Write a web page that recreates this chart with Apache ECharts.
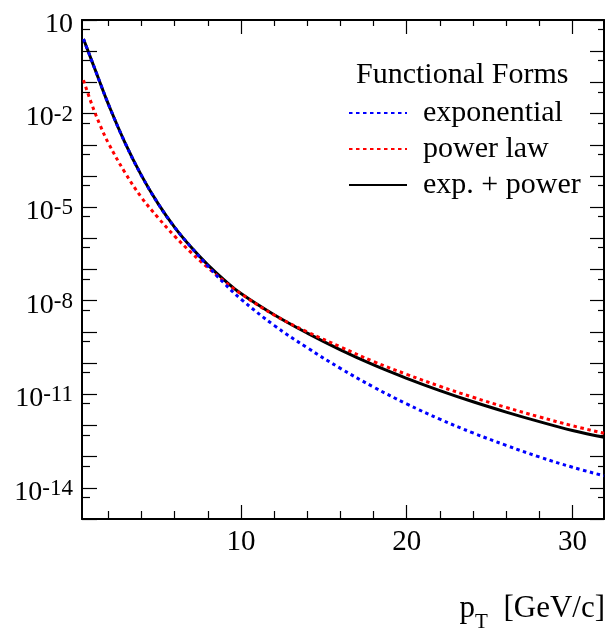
<!DOCTYPE html>
<html><head><meta charset="utf-8">
<script src="https://cdn.jsdelivr.net/npm/echarts@6/dist/echarts.min.js"></script>
<style>html,body{margin:0;padding:0;background:#fff}#c{width:608px;height:628px}</style>
</head><body><div id="c"></div>
<script>
// ---- data ----
const pT = [0.5, 1, 1.5, 2, 3, 4, 5, 6, 7, 8, 9, 10, 12, 14, 16, 18, 20, 22, 24, 26, 28, 30, 31.9];
const exponential = [2.45, 0.49, 0.0977, 0.020, 1.175e-3, 1.023e-4, 1.29e-5, 2.24e-6, 5.13e-7, 1.29e-7, 3.55e-8, 1.12e-8, 1.62e-9, 3.09e-10, 6.76e-11, 1.70e-11, 4.90e-12, 1.585e-12, 5.75e-13, 2.29e-13, 9.77e-14, 4.57e-14, 2.43e-14];
const powerLaw = [0.118, 0.0198, 4.27e-3, 1.135e-3, 1.29e-4, 2.04e-5, 4.57e-6, 1.175e-6, 3.47e-7, 1.15e-7, 4.17e-8, 1.66e-8, 3.47e-9, 1.0e-9, 3.31e-10, 1.12e-10, 4.34e-11, 1.80e-11, 8.0e-12, 3.78e-12, 1.88e-12, 9.77e-13, 5.62e-13];
const expPlusPower = [2.45, 0.49, 0.0977, 0.020, 1.175e-3, 1.023e-4, 1.29e-5, 2.24e-6, 5.13e-7, 1.41e-7, 4.57e-8, 1.70e-8, 3.55e-9, 9.12e-10, 2.66e-10, 8.71e-11, 3.24e-11, 1.31e-11, 5.73e-12, 2.68e-12, 1.32e-12, 6.87e-13, 4.17e-13];
const seriesNames = ['exponential', 'power law', 'exp. + power'];
const xMajorTicks = [10, 20, 30];
const xMinorTicks = [2, 4, 6, 8, 12, 14, 16, 18, 22, 24, 26, 28];
const yDecades = [1e-15, 1e-14, 1e-13, 1e-12, 1e-11, 1e-10, 1e-9, 1e-8, 1e-7, 1e-6, 1e-5, 1e-4, 1e-3, 1e-2, 1e-1, 1, 10];
const yLabelValues = [10, 1e-2, 1e-5, 1e-8, 1e-11, 1e-14];
const yMinorExps = [-14.301, -13.301, -12.301, -11.301, -10.301, -9.301, -8.301, -7.301, -6.301, -5.301, -4.301, -3.301, -2.301, -1.301, -0.301, 0.699];

const FONT = "'Liberation Serif', 'Times New Roman', serif";
const X_MIN = 0.41, X_MAX = 31.9;
const Y_MIN = 1e-15, Y_MAX = 10;

const chart = echarts.init(document.getElementById('c'), null, {renderer: 'canvas'});
const tickStyle = {color: '#000', width: 1.2};
function xAx(pos, ticks, len, showLine, showLabel) {
  return {
    type: 'value', min: X_MIN, max: X_MAX, position: pos,
    axisLine: {show: showLine, onZero: false, lineStyle: {color: '#000', width: 2}},
    axisTick: {show: true, inside: true, length: len, customValues: ticks, lineStyle: tickStyle},
    axisLabel: showLabel ? {customValues: xMajorTicks, margin: 9, fontSize: 29, fontFamily: FONT, color: '#000'} : {show: false},
    splitLine: {show: false}
  };
}
function yLog(pos, len, showLabel) {
  return {
    type: 'log', logBase: 10, min: Y_MIN, max: Y_MAX, position: pos,
    axisLine: {show: true, onZero: false, lineStyle: {color: '#000', width: 2}},
    axisTick: {show: true, inside: true, length: len, customValues: yDecades, lineStyle: tickStyle},
    axisLabel: showLabel ? {
      customValues: yLabelValues, margin: 9, color: '#000', padding: [9, 0, 0, 0],
      formatter: function (v) {
        const e = Math.round(Math.log10(v));
        return e === 1 ? '{b|10}' : '{b|10}{e|' + e + '}';
      },
      rich: {
        b: {fontSize: 28, fontFamily: FONT, color: '#000', lineHeight: 30},
        e: {fontSize: 23, fontFamily: FONT, color: '#000', lineHeight: 22, verticalAlign: 'top'}
      }
    } : {show: false},
    splitLine: {show: false}
  };
}
function yMinor(pos, len) {
  return {
    type: 'value', min: -15, max: 1, position: pos,
    axisLine: {show: false, onZero: false},
    axisTick: {show: true, inside: true, length: len, customValues: yMinorExps, lineStyle: tickStyle},
    axisLabel: {show: false}, splitLine: {show: false}
  };
}

const colors = {'exponential': '#0000ff', 'power law': '#ff0000', 'exp. + power': '#000000'};
const values = {'exponential': exponential, 'power law': powerLaw, 'exp. + power': expPlusPower};
const drawOrder = ['exp. + power', 'power law', 'exponential'];

chart.setOption({
  animation: false,
  backgroundColor: '#fff',
  grid: {left: 82, right: 4, top: 20, bottom: 109, containLabel: false},
  title: {
    text: 'Functional Forms', left: 356, top: 60, padding: 0,
    textStyle: {fontSize: 30, fontFamily: FONT, fontWeight: 'normal', color: '#000', lineHeight: 30}
  },
  legend: {
    data: seriesNames, orient: 'vertical', left: 348, top: 98, padding: 0,
    itemWidth: 58, itemHeight: 14, itemGap: 6,
    itemStyle: {opacity: 0},
    textStyle: {fontSize: 30, fontFamily: FONT, color: '#000', lineHeight: 30, padding: [0, 0, 0, 11]}
  },
  xAxis: [
    xAx('bottom', xMajorTicks, 14, true, true),
    xAx('bottom', xMinorTicks, 8, false, false),
    xAx('top', xMajorTicks, 14, true, false),
    xAx('top', xMinorTicks, 6, false, false)
  ],
  yAxis: [
    yLog('left', 15, true),
    yMinor('left', 8),
    yLog('right', 14, false),
    yMinor('right', 6)
  ],
  series: drawOrder.map(function (name) {
    const dotted = name !== 'exp. + power';
    return {
      name: name, type: 'line', xAxisIndex: 0, yAxisIndex: 0,
      data: pT.map(function (x, i) { return [x, values[name][i]]; }),
      showSymbol: false, symbol: 'none', smooth: 0.4,
      itemStyle: {color: colors[name]},
      lineStyle: {color: colors[name], width: dotted ? 3 : 3, type: dotted ? [3.5, 3.5] : 'solid', cap: 'butt'}
    };
  }),
  graphic: [{
    type: 'text', x: 605, y: 609,
    style: {
      text: '{p|p}{t|T}{p|  [GeV/c]}', align: 'right', verticalAlign: 'middle',
      rich: {
        p: {fontSize: 31, fontFamily: FONT, fill: '#000', lineHeight: 48},
        t: {fontSize: 21, fontFamily: FONT, fill: '#000', lineHeight: 20, verticalAlign: 'bottom'}
      }
    }
  }]
});
</script></body></html>
